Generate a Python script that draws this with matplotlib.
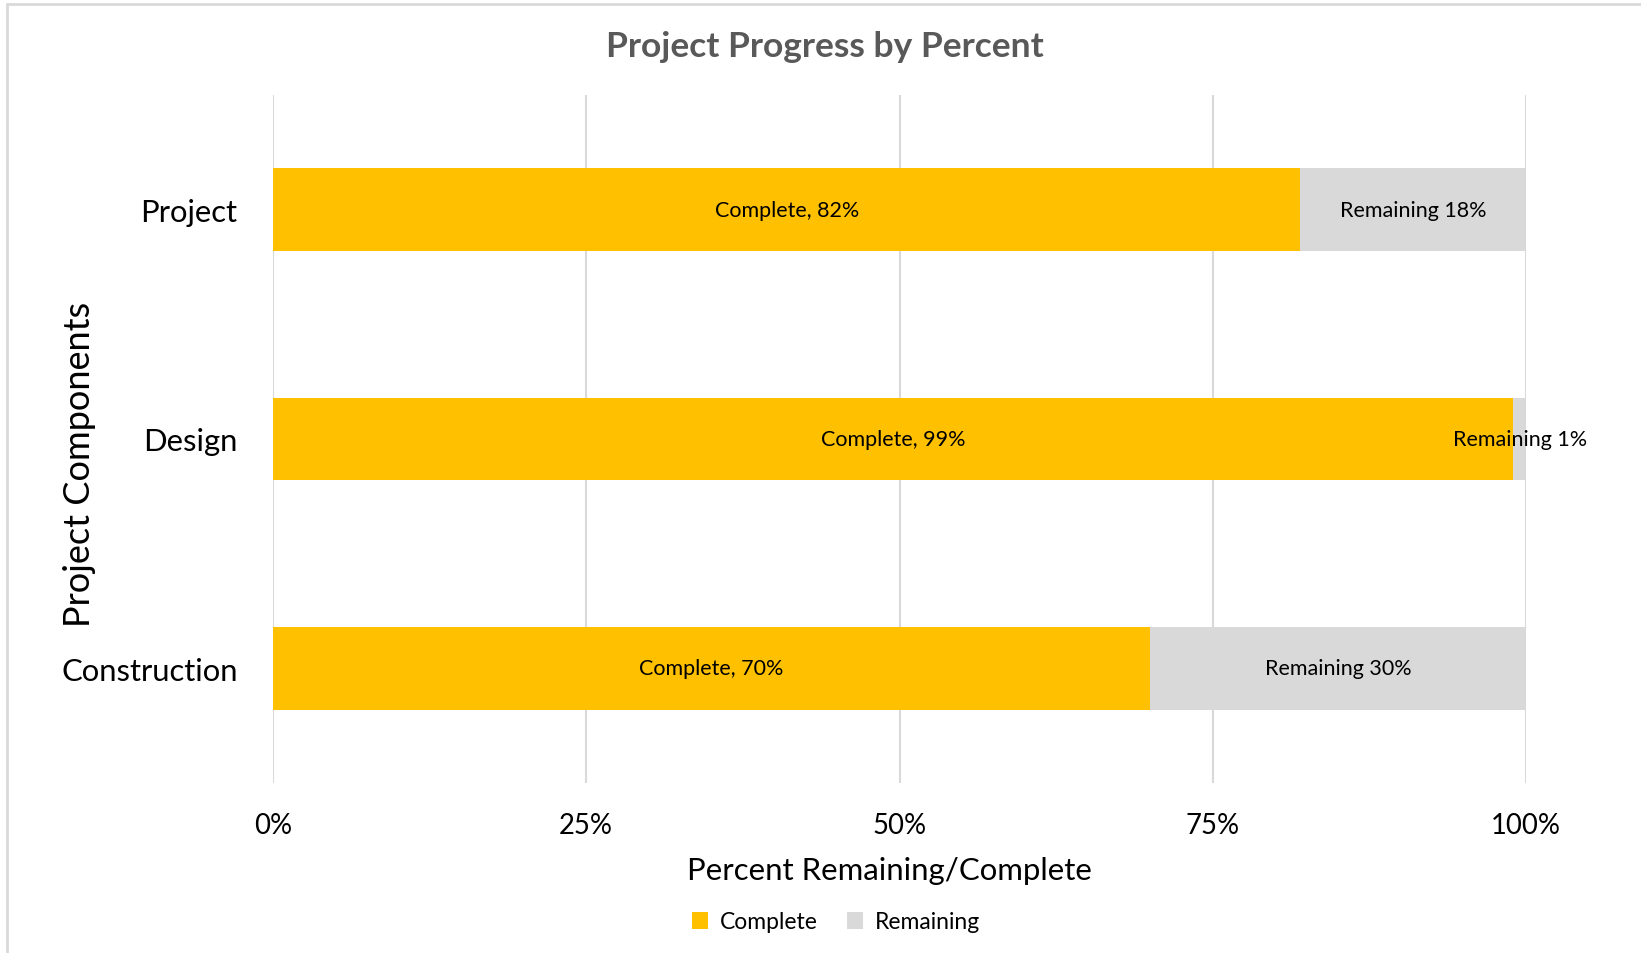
import matplotlib
matplotlib.use("Agg")
import matplotlib.pyplot as plt
from matplotlib.patches import Rectangle

categories = ["Project", "Design", "Construction"]
complete = [82, 99, 70]
remaining = [18, 1, 30]
xticks = [0, 25, 50, 75, 100]
xtick_labels = ["0%", "25%", "50%", "75%", "100%"]

plt.rcParams['font.family'] = ['Lato', 'DejaVu Sans']

W, H = 1641, 954
fig = plt.figure(figsize=(W / 100, H / 100), dpi=100)
ax = fig.add_axes([273 / W, 1 - 784 / H, (1526 - 273) / W, (784 - 96) / H])

gold = "#FFC000"
grey = "#D9D9D9"

ypos = list(range(len(categories)))
bh = 0.36
ax.barh(ypos, complete, height=bh, color=gold, label="Complete", zorder=2)
ax.barh(ypos, remaining, left=complete, height=bh, color=grey, label="Remaining", zorder=2)

for y, c, r in zip(ypos, complete, remaining):
    ax.text(c / 2, y, f"Complete, {c}%", ha="center", va="center", fontsize=15.5, color="#000000", zorder=3)
    ax.text(c + r / 2, y, f"Remaining {r}%", ha="center", va="center", fontsize=15.5, color="#000000", zorder=3)

ax.set_xlim(0, 100)
ax.set_ylim(2.5, -0.5)
ax.set_yticks(ypos)
ax.set_yticklabels(categories, fontsize=22.3)
ax.set_xticks(xticks)
ax.set_xticklabels(xtick_labels, fontsize=19.8)
ax.tick_params(axis="both", length=0, colors="#000000")
ax.tick_params(axis="x", pad=21)
ax.tick_params(axis="y", pad=25.5)
ax.grid(axis="x", color=grey, linewidth=1.5, zorder=0)
for s in ax.spines.values():
    s.set_visible(False)

ax.set_xlabel("Percent Remaining/Complete", fontsize=22.4, va="center")
ax.xaxis.set_label_coords(0.4916, -(871 - 784) / 688)
ax.set_ylabel("Project Components", fontsize=26, va="center")
ax.yaxis.set_label_coords((80 - 273) / 1253, 0.465)

fig.text(0.5 + 4 / W, 1 - 47 / H, "Project Progress by Percent", ha="center", va="center",
         fontsize=25.5, fontweight="bold", color="#595959")

leg = fig.legend(loc="center", bbox_to_anchor=(836 / W, 1 - 923 / H), ncol=2, frameon=False,
                 fontsize=16.5, handlelength=0.7, handleheight=0.7, columnspacing=1.3, handletextpad=0.5)

fig.add_artist(Rectangle((7 / W, -0.1), 1.2, 1 - 5 / H + 0.1, transform=fig.transFigure,
                         fill=False, edgecolor="#D9D9D9", linewidth=2))

fig.savefig("out.png", dpi=100, facecolor="white")
